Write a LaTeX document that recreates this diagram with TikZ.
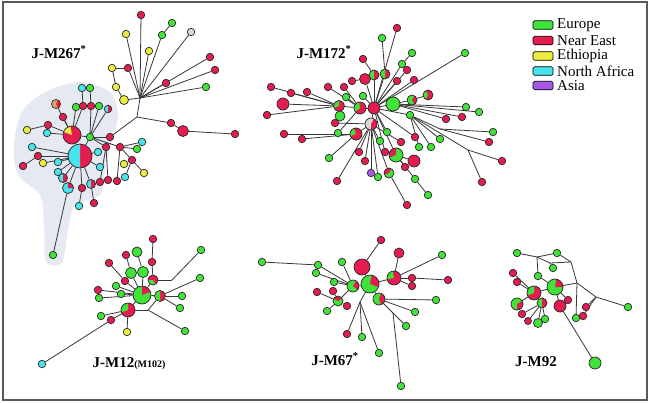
\documentclass[tikz,border=0pt]{standalone}
\usepackage{fontspec}
\setmainfont{Liberation Serif}
\pgfdeclarelayer{back}
\pgfdeclarelayer{bg}
\pgfsetlayers{back,bg,main}
\definecolor{cgreen}{RGB}{64,228,56}
\definecolor{cred}{RGB}{228,28,80}
\definecolor{cyel}{RGB}{236,236,64}
\definecolor{ccyan}{RGB}{72,228,236}
\definecolor{cpurp}{RGB}{168,88,232}
\definecolor{corange}{RGB}{226,160,100}
\definecolor{blobc}{RGB}{229,233,242}
\definecolor{cgrey}{RGB}{215,215,215}
\tikzset{
 nd/.style={circle, draw=black!85, line width=0.7pt, inner sep=0pt, minimum size=7.5pt},
 nG/.style={nd, fill=cgreen}, nR/.style={nd, fill=cred}, nY/.style={nd, fill=cyel},
 nC/.style={nd, fill=ccyan}, nP/.style={nd, fill=cpurp}, nW/.style={nd, fill=cgrey},
 nO/.style={nd, fill=corange},
 sz/.style={minimum size=#1pt},
 sl/.style n args={3}{path picture={\fill[#1] (path picture bounding box.center) -- ++(#2:20pt) arc[start angle=#2,end angle=#3,radius=20pt] -- cycle;}},
 ln/.style={draw=black!78, line width=0.8pt},
 lbl/.style={font=\fontsize{15}{16}\selectfont\bfseries, inner sep=0pt},
 lgbox/.style={draw=black, line width=0.7pt, rounded corners=1.5pt, minimum width=20pt, minimum height=8.5pt, inner sep=0pt},
 lgtxt/.style={font=\fontsize{15}{16}\selectfont, anchor=west, inner sep=0pt}
}
\begin{document}
\begin{tikzpicture}[x=1pt,y=-1pt]
\useasboundingbox (0,0) rectangle (651,402);
\begin{pgfonlayer}{back}
\fill[white] (0,0) rectangle (651,402);
\fill[blobc] plot[smooth cycle] coordinates {(22,112) (45,92) (80,82) (110,92) (118,115) (112,140) (105,170) (100,195) (75,205) (68,230) (62,262) (46,262) (44,225) (40,195) (18,175) (14,145)};
\end{pgfonlayer}
\draw[line width=1.6pt, black!65] (3,2) rectangle (647,400);
% ---------------- J-M267 ----------------
\node[lbl] (t267) at (59,52) {J-M267\textsuperscript{*}};
\coordinate (h1) at (140,98);
\coordinate (b1) at (137,117);
\node[nR] (a1) at (141,15) {};
\node[nG] (a2) at (162,35) {};
\node[nG] (a3) at (172,23) {};
\node[nW] (a4) at (191,32) {};
\node[nY] (a5) at (126,34) {};
\node[nY] (a6) at (149,51) {};
\node[nR] (a7) at (210,57) {};
\node[nR] (a8) at (215,70) {};
\node[nR] (a9) at (166,83) {};
\node[nG] (a10) at (206,87) {};
\node[nY] (a11) at (112,68) {};
\node[nR] (a12) at (128,68) {};
\node[nY] (a13) at (116,87) {};
\node[nY,sz=9] (a14) at (124,100) {};
\node[nR] (c1) at (171,123) {};
\node[nR,sz=11] (c2) at (183,131) {};
\node[nR] (c3) at (235,134) {};
\node[nG] (g0) at (90,137) {};
\node[nR, sz=18, sl={cyel}{100}{160}] (P1) at (72,135) {};
\node[nR, sz=24, sl={ccyan}{90}{270}] (P2) at (80,156) {};
\node[nC] (l1) at (82,88) {};
\node[nG] (l2) at (90,88) {};
\node[nR] (l3) at (83,106) {};
\node[nG] (l4) at (76,107) {};
\node[nR] (l5) at (91,106) {};
\node[nG] (l6) at (99,106) {};
\node[nC, sl={cred}{-90}{90}] (l7) at (108,109) {};
\node[nO, sz=9, sl={cred}{-60}{60}] (l8) at (56,104) {};
\node[nR] (l9) at (63,117) {};
\node[nR] (l10) at (48,125) {};
\node[nY] (l11) at (27,130) {};
\node[nC] (l12) at (47,133) {};
\node[nC] (l13) at (32,147) {};
\node[nR] (l14) at (38,156) {};
\node[nR] (l15) at (23,166) {};
\node[nY] (l16) at (43,163) {};
\node[nR] (l17) at (110,137) {};
\node[nR] (l18) at (106,147) {};
\node[nC] (l19) at (98,152) {};
\node[nC] (l20) at (142,142) {};
\node[nR] (l21) at (120,147) {};
\node[nG] (l22) at (137,149) {};
\node[nR] (l23) at (132,160) {};
\node[nY] (l24) at (124,164) {};
\node[nY] (l25) at (144,173) {};
\node[nC] (l26) at (125,177) {};
\node[nR] (l27) at (117,181) {};
\node[nR] (l28) at (108,180) {};
\node[nR] (l29) at (100,182) {};
\node[nC] (l30) at (58,162) {};
\node[nC] (l31) at (58,172) {};
\node[nC, sz=9, sl={cred}{-90}{90}] (l32) at (63,178) {};
\node[nC, sz=11, sl={cred}{0}{90}] (l33) at (68,188) {};
\node[nR] (l34) at (82,188) {};
\node[nC, sz=9, sl={cred}{-90}{90}] (l35) at (91,184) {};
\node[nC] (l36) at (79,206) {};
\node[nR] (l37) at (94,203) {};
\node[nG] (l38) at (53,255) {};
\node[nC] (l39) at (100,167) {};
\begin{pgfonlayer}{bg}
\foreach \a/\b in {h1/a1,h1/a2,a2/a3,h1/a4,h1/a5,h1/a6,h1/a7,h1/a8,h1/a9,h1/a10,a11/a12,a11/a13,a13/a14,a14/h1,a12/h1,h1/b1,b1/c1,c1/c2,c2/c3,
 b1/l17,l17/g0,g0/P1,g0/P2,g0/l5,g0/l6,g0/l7,g0/l18,g0/l21,l21/l20,l21/l22,l21/l23,l23/l25,l23/l24,l23/l26,l21/l27,l18/l28,l18/l29,
 P1/l3,l3/l1,P1/l4,l5/l2,P1/l8,P1/l9,P1/l10,l10/l11,P1/l12,P2/l13,P2/l14,l14/l15,P2/l16,P2/l30,P2/l31,P2/l32,P2/l33,P2/l34,P2/l35,P2/l19,P2/l39,l33/l38,l34/l36,l35/l37}
 \draw[ln] (\a) -- (\b);
\end{pgfonlayer}
% ---------------- J-M172 ----------------
\node[lbl] (t172) at (324,52) {J-M172\textsuperscript{*}};
\node[nR, sz=12] (H2) at (374,108) {};
\node[nR] (m1) at (397,28) {};
\node[nG] (m2) at (382,38) {};
\node[nG] (m3) at (412,53) {};
\node[nG] (m4) at (465,53) {};
\node[nR] (m5) at (363,59) {};
\node[nG, sz=10, sl={cred}{-90}{90}] (m6) at (374,75) {};
\node[nR, sz=10, sl={cgreen}{90}{270}] (m7) at (385,74) {};
\node[nR, sz=11] (m8) at (365,79) {};
\node[nR] (m9) at (352,81) {};
\node[nG] (m10) at (402,64) {};
\node[nR] (m11) at (407,70) {};
\node[nR] (m12) at (397,81) {};
\node[nR] (m13) at (414,80) {};
\node[nR] (m14) at (344,87) {};
\node[nR] (m15) at (328,87) {};
\node[nR] (m16) at (307,92) {};
\node[nR] (m17) at (291,93) {};
\node[nR] (m18) at (271,87) {};
\node[nR, sz=12] (m19) at (283,104) {};
\node[nR] (m20) at (267,115) {};
\node[nR, sz=11, sl={cgreen}{90}{200}] (m21) at (339,106) {};
\node[nG, sz=10] (m22) at (340,116) {};
\node[nR, sz=12, sl={cgreen}{100}{220}] (m23) at (360,108) {};
\node[nG, sz=14] (m24) at (393,104) {};
\node[nG, sz=10, sl={cred}{-60}{60}] (m25) at (412,100) {};
\node[nR, sz=10, sl={cgreen}{120}{240}] (m26) at (428,95) {};
\node[nG] (m27) at (410,115) {};
\node[nG] (m28) at (466,107) {};
\node[nG] (m29) at (479,112) {};
\node[nR] (m30) at (446,119) {};
\node[nR] (m31) at (462,117) {};
\node[nG] (m32) at (493,132) {};
\node[nR] (m33) at (489,142) {};
\node[nR] (m34) at (502,161) {};
\node[nR] (m35) at (482,182) {};
\node[nG] (m36) at (440,139) {};
\node[nG] (m37) at (431,147) {};
\node[nG] (m38) at (419,147) {};
\node[nR] (m39) at (415,137) {};
\node[nR, sz=12] (m40) at (414,161) {};
\node[nR] (m41) at (405,167) {};
\node[nG] (m42) at (415,179) {};
\node[nG] (m43) at (428,195) {};
\node[nR] (m44) at (407,205) {};
\node[nW, sz=12, sl={cred}{-90}{60}] (m45) at (371,124) {};
\node[nR, sz=12, sl={cgreen}{110}{200}] (m46) at (356,134) {};
\node[nR] (m47) at (284,134) {};
\node[nR] (m48) at (302,139) {};
\node[nG] (m49) at (329,158) {};
\node[nR] (m50) at (337,181) {};
\node[nR] (m51) at (359,152) {};
\node[nR] (m52) at (365,161) {};
\node[nP] (m53) at (371,173) {};
\node[nG] (m54) at (378,177) {};
\node[nG, sz=10, sl={cred}{60}{200}] (m55) at (389,173) {};
\node[nR] (m56) at (385,152) {};
\node[nG, sz=14, sl={cred}{90}{200}] (m57) at (396,155) {};
\node[nG] (m58) at (387,132) {};
\node[nG] (m59) at (338,133) {};
\node[nG] (m60) at (380,141) {};
\node[nG] (m61) at (363,96) {};
\node[nG] (m62) at (346,97) {};
\node[nR] (m63) at (335,123) {};
\node[nR] (m64) at (401,142) {};
\coordinate (bp1) at (440,129);
\coordinate (bp2) at (468,150);
\begin{pgfonlayer}{bg}
\foreach \a/\b in {H2/m1,H2/m7,m7/m2,H2/m6,m6/m5,H2/m8,m8/m9,H2/m10,m10/m3,H2/m4,H2/m11,H2/m12,H2/m13,
 H2/m23,m23/m14,m23/m15,m23/m21,m21/m16,m21/m17,m21/m18,m21/m19,m21/m20,m21/m22,
 H2/m24,m24/m25,m25/m26,m24/m28,m24/m29,m24/m30,m24/m31,
 H2/m27,m27/bp1,bp1/m32,bp1/m33,m27/bp2,bp2/m34,bp2/m35,m27/m36,m27/m37,m27/m38,
 H2/m39,m57/m40,m57/m41,m57/m42,m42/m43,m55/m44,
 H2/m45,m45/m46,m46/m47,m46/m48,m46/m49,m45/m50,m45/m51,m45/m52,m45/m53,m45/m54,m45/m55,H2/m56,H2/m57,H2/m58,m45/m60,m23/m59,
 H2/m61,m23/m62,m45/m63,m45/m64}
 \draw[ln] (\a) -- (\b);
\end{pgfonlayer}
% ---------------- J-M12 ----------------
\node[lbl] (t12) at (129,364) {J-M12{\fontsize{10}{12}\selectfont(M102)}};
\node[nG, sz=18, sl={cred}{20}{90}] (Q1) at (142,295) {};
\node[nR, sz=14, sl={cgreen}{90}{200}] (Q2) at (128,310) {};
\node[nG, sz=11] (q1) at (131,273) {};
\node[nG, sz=11] (q2) at (143,272) {};
\node[nG, sz=10] (q3) at (137,252) {};
\node[nR] (q4) at (126,255) {};
\node[nR] (q5) at (109,263) {};
\node[nR] (q6) at (153,239) {};
\node[nR] (q7) at (152,262) {};
\node[nR, sz=10, sl={cgreen}{180}{300}] (q8) at (153,280) {};
\node[nG] (q9) at (201,250) {};
\node[nG] (q10) at (200,278) {};
\node[nG] (q11) at (182,296) {};
\node[nG] (q12) at (180,308) {};
\node[nG] (q13) at (185,331) {};
\node[nR, sz=11, sl={cgreen}{90}{270}] (q14) at (160,296) {};
\node[nR] (q15) at (98,290) {};
\node[nG] (q16) at (99,298) {};
\node[nG] (q17) at (101,316) {};
\node[nR] (q18) at (111,320) {};
\node[nY] (q19) at (127,332) {};
\node[nC] (q20) at (42,364) {};
\node[nG] (q21) at (116,286) {};
\node[nG] (q22) at (121,294) {};
\node[nR] (q23) at (125,281) {};
\coordinate (bpa) at (172,280);
\coordinate (bpb) at (148,310);
\begin{pgfonlayer}{bg}
\foreach \a/\b in {Q1/q1,Q1/q2,q1/q4,q2/q3,q6/q7,q7/q8,q8/Q1,q8/bpa,bpa/q9,Q1/q14,q14/q10,q14/q11,q14/q12,q5/q23,q23/Q1,Q1/q21,Q1/q22,Q1/q15,Q1/q16,
 Q2/q17,Q2/q18,Q2/q19,q18/q20,Q2/bpb,bpb/q14,bpb/q13,Q1/Q2}
 \draw[ln] (\a) -- (\b);
\end{pgfonlayer}
% ---------------- J-M67 ----------------
\node[lbl] (t67) at (335,359) {J-M67\textsuperscript{*}};
\node[nG, sz=18, sl={cred}{-20}{80}] (R1) at (370,284) {};
\node[nR, sz=16] (R2) at (362,267) {};
\node[nR, sz=14, sl={cgreen}{100}{190}] (R3) at (394,278) {};
\node[nG, sz=12, sl={cred}{-70}{70}] (R4) at (379,299) {};
\node[nG, sz=12, sl={cred}{-40}{60}] (R5) at (353,286) {};
\node[nG, sz=10, sl={cred}{30}{150}] (R6) at (338,301) {};
\node[nR] (s1) at (381,240) {};
\node[nR, sz=10] (s2) at (399,253) {};
\node[nG] (s3) at (442,255) {};
\node[nG] (s4) at (262,262) {};
\node[nG] (s5) at (318,265) {};
\node[nG] (s6) at (316,273) {};
\node[nG] (s7) at (342,262) {};
\node[nG] (s8) at (334,282) {};
\node[nR] (s9) at (317,292) {};
\node[nR] (s10) at (333,291) {};
\node[nR] (s11) at (347,306) {};
\node[nG] (s12) at (327,311) {};
\node[nR] (s13) at (412,278) {};
\node[nR] (s14) at (412,286) {};
\node[nR] (s15) at (448,280) {};
\node[nG] (s16) at (436,300) {};
\node[nG] (s17) at (415,312) {};
\node[nG] (s18) at (406,326) {};
\node[nR] (s19) at (347,334) {};
\node[nG] (s20) at (362,337) {};
\node[nG] (s21) at (379,353) {};
\node[nG] (s22) at (401,386) {};
\coordinate (bpd) at (360,302);
\coordinate (bpe) at (393,313);
\begin{pgfonlayer}{bg}
\foreach \a/\b in {R1/R2,R2/s1,R1/R3,R3/s2,R3/s3,R1/R4,R4/s16,R4/s17,R1/R5,R5/s5,s5/s4,R5/s6,R5/s7,R5/s8,R5/R6,R6/s9,R6/s10,R6/s11,R6/s12,
 R3/s13,s13/s15,R3/s14,R1/bpd,bpd/s19,bpd/s20,bpd/s21,R4/bpe,bpe/s22,bpe/s18}
 \draw[ln] (\a) -- (\b);
\end{pgfonlayer}
% ---------------- J-M92 ----------------
\node[lbl] (t92) at (536,362) {J-M92};
\node[nG, sz=16, sl={cred}{0}{80}] (T1) at (555,287) {};
\node[nR, sz=14, sl={cgreen}{90}{200}] (T2) at (534,293) {};
\node[nG, sz=12, sl={cred}{-90}{30}] (T3) at (517,304) {};
\node[nG, sz=10, sl={cred}{-90}{90}] (T4) at (542,303) {};
\node[nG] (t1) at (517,253) {};
\node[nG] (t2) at (557,253) {};
\node[nG] (t3) at (538,276) {};
\node[nG] (t4) at (553,268) {};
\node[nR] (t5) at (513,273) {};
\node[nR] (t6) at (517,282) {};
\node[nR, sz=12] (t7) at (560,306) {};
\node[nR] (t8) at (568,300) {};
\node[nR] (t9) at (522,314) {};
\node[nR, sz=7] (t10) at (528,321) {};
\node[nG, sz=9] (t11) at (538,323) {};
\node[nG] (t12) at (545,319) {};
\node[nG] (t13) at (576,318) {};
\node[nR] (t14) at (583,316) {};
\node[nR] (t15) at (586,307) {};
\node[nG] (t16) at (628,307) {};
\node[nG, sz=12] (t17) at (595,363) {};
\coordinate (u1) at (537,257);
\coordinate (u2) at (571,262);
\coordinate (u3) at (550,263);
\coordinate (u5) at (577,283);
\coordinate (u6) at (596,297);
\begin{pgfonlayer}{bg}
\foreach \a/\b in {t1/u1,u1/t2,u1/u3,t2/u2,u3/u2,u1/t3,u3/t4,u2/u5,u5/u6,u6/t16,u5/T1,u6/t14,u6/t15,u5/t13,
 T1/T2,T1/t7,t7/t17,T1/t8,T1/t3,T2/t5,T2/t6,T2/T3,T2/T4,T4/t9,T4/t10,T4/t11,T4/t12}
 \draw[ln] (\a) -- (\b);
\end{pgfonlayer}
% ---------------- legend ----------------
\node[lgbox, fill=cgreen] (kE) at (543,25) {};
\node[lgtxt] (tE) at (557,25) {Europe};
\node[lgbox, fill=cred] (kN) at (543,40.5) {};
\node[lgtxt] (tN) at (557,40.5) {Near East};
\node[lgbox, fill=cyel] (kT) at (543,56) {};
\node[lgtxt] (tT) at (557,56) {Ethiopia};
\node[lgbox, fill=ccyan] (kA) at (543,71) {};
\node[lgtxt] (tA) at (557,71) {North Africa};
\node[lgbox, fill=cpurp] (kS) at (543,85.5) {};
\node[lgtxt] (tS) at (557,85.5) {Asia};
\end{tikzpicture}
\end{document}
